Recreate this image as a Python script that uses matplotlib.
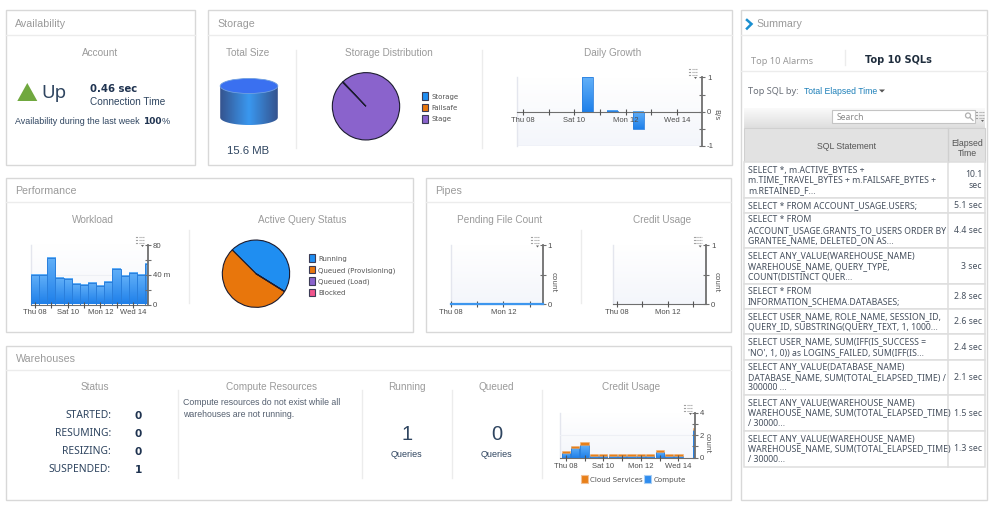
import numpy as np
import matplotlib
matplotlib.use("Agg")
import matplotlib.pyplot as plt
from matplotlib.colors import LinearSegmentedColormap
from matplotlib.patches import Rectangle, Polygon, Ellipse, PathPatch
from matplotlib.path import Path

W, H = 1000, 511

# chart data
tick_days = [8, 9, 10, 11, 12, 13, 14]
tick_names = ["Thu 08", "", "Sat 10", "", "Mon 12", "", "Wed 14"]
pipe_tick_days = [8, 10, 12, 14]
pipe_tick_names = ["Thu 08", "", "Mon 12", ""]

growth_days = [10.5, 11.5, 12.5]
growth_values = [1.0, 0.03, -0.5]

workload_days = [8, 8.5, 9, 9.5, 10, 10.5, 11, 11.5, 12, 12.5, 13, 13.5, 14, 14.5, 15]
workload_values = [40, 39, 63, 36, 34, 27.5, 26.7, 28.5, 25, 30, 48, 38.5, 43, 40, 54]

storage_labels = ["Storage", "Failsafe", "Stage"]
storage_values = [0.25, 0.15, 99.6]
storage_colors = ["#1f8ef1", "#e8760c", "#8a63cc"]

query_labels = ["Running", "Queued (Provisioning)", "Queued (Load)", "Blocked"]
query_values = [46.4, 53.6, 0, 0]
query_colors = ["#1f8ef1", "#e8760c", "#8a63cc", "#f0558c"]

pending_days = [8, 9, 10, 11, 12, 13, 14, 15]
pending_values = [0, 0, 0, 0, 0, 0, 0, 0]

credit_days = [8, 8.5, 9, 9.5, 10, 10.5, 11, 11.5, 12, 12.5, 13, 13.5, 14, 14.5, 15]
credit_compute = [0.41, 0.89, 1.13, 0.18, 0.18, 0.18, 0.18, 0.18, 0.18, 0.18, 0.53, 0.18, 0.18, 0, 2.46]
credit_cloud = [0.15, 0.18, 0.23, 0.12, 0.12, 0.12, 0.12, 0.12, 0.12, 0.12, 0.12, 0.12, 0.12, 0, 0.18]

status_names = ["STARTED:", "RESUMING:", "RESIZING:", "SUSPENDED:"]
status_counts = [0, 0, 0, 1]

sql_statements = [
    "SELECT *, m.ACTIVE_BYTES +\nm.TIME_TRAVEL_BYTES + m.FAILSAFE_BYTES +\nm.RETAINED_F...",
    "SELECT * FROM ACCOUNT_USAGE.USERS;",
    "SELECT * FROM\nACCOUNT_USAGE.GRANTS_TO_USERS ORDER BY\nGRANTEE_NAME, DELETED_ON AS...",
    "SELECT ANY_VALUE(WAREHOUSE_NAME)\nWAREHOUSE_NAME, QUERY_TYPE,\nCOUNT(DISTINCT QUER...",
    "SELECT * FROM\nINFORMATION_SCHEMA.DATABASES;",
    "SELECT USER_NAME, ROLE_NAME, SESSION_ID,\nQUERY_ID, SUBSTRING(QUERY_TEXT, 1, 1000...",
    "SELECT USER_NAME, SUM(IFF(IS_SUCCESS =\n'NO', 1, 0)) as LOGINS_FAILED, SUM(IFF(IS...",
    "SELECT ANY_VALUE(DATABASE_NAME)\nDATABASE_NAME, SUM(TOTAL_ELAPSED_TIME) /\n300000 ...",
    "SELECT ANY_VALUE(WAREHOUSE_NAME)\nWAREHOUSE_NAME, SUM(TOTAL_ELAPSED_TIME)\n/ 30000...",
    "SELECT ANY_VALUE(WAREHOUSE_NAME)\nWAREHOUSE_NAME, SUM(TOTAL_ELAPSED_TIME)\n/ 30000...",
]
sql_elapsed = ["10.1\nsec", "5.1 sec", "4.4 sec", "3 sec", "2.8 sec", "2.6 sec", "2.4 sec", "2.1 sec", "1.5 sec", "1.3 sec"]

GREY = "#9a9a9a"
DARK = "#2f4560"
BODY = "#556070"
AXIS = "#6f6f6f"
TICKC = "#4d4d4d"
UI = "Noto Sans"
SANS = "Liberation Sans"
VERD = "DejaVu Sans"

fig = plt.figure(figsize=(W / 100, H / 100), dpi=100, facecolor="white")
page = fig.add_axes([0, 0, 1, 1])
page.set_xlim(0, W)
page.set_ylim(H, 0)
page.set_autoscale_on(False)
page.axis("off")


def label(x, y, s, size=7.2, color=GREY, ha="left", weight="normal", family=SANS, **kw):
    page.text(x, y, s, fontsize=size, color=color, ha=ha, va="center_baseline",
              fontweight=weight, family=family, **kw)


def panel(x0, y0, x1, y1, title, title_x, head_y):
    page.add_patch(Rectangle((x0, y0), x1 - x0, y1 - y0, fc="white", ec="#d8d8d8", lw=1))
    page.plot([x0, x1], [head_y, head_y], color="#ececec", lw=1)
    label(title_x, (y0 + head_y) / 2, title, size=7.7)


def separator(x, y0, y1):
    page.plot([x, x], [y0, y1], color="#ececec", lw=1)


def vgradient(x0, y0, x1, y1, top, bottom):
    cmap = LinearSegmentedColormap.from_list("g", [top, bottom])
    page.imshow(np.linspace(0, 1, 64).reshape(-1, 1), extent=(x0, x1, y1, y0),
                cmap=cmap, aspect="auto", zorder=1)


def menu_icon(x, y):
    for dy in (-3, 0, 3):
        page.plot([x - 4, x - 3], [y + dy, y + dy], color="#a0a0a0", lw=0.8, zorder=5)
        page.plot([x - 1.5, x + 4], [y + dy, y + dy], color="#a0a0a0", lw=0.8, ls=(0, (1, 0.7)), zorder=5)
    page.add_patch(Polygon([(x + 1, y + 5), (x + 4, y + 5), (x + 2.5, y + 7)], fc="#666666", ec="none", zorder=5))


def legend_rows(x, y, labels, colors, step=11.5, size=5):
    for i, (name, c) in enumerate(zip(labels, colors)):
        page.add_patch(Rectangle((x, y + i * step - 3.7), 6.6, 7.4, fc=c, ec="#3b3b55", lw=0.8))
        label(x + 9.5, y + i * step, name, size=size, color="#555555", family=VERD)


def chart_axes(x0, y0, x1, y1, xlim, ylim, yticks, ylabels, unit=None, unit_x=None):
    vgradient(x0, y0, x1, y1, "#ffffff", "#f4f6fb")
    page.plot([x0, x0], [y0, y1], color="#e4e6ee", lw=1, zorder=2)
    ax = fig.add_axes([x0 / W, 1 - y1 / H, (x1 - x0) / W, (y1 - y0) / H], facecolor="none")
    ax.set_xlim(*xlim)
    ax.set_ylim(*ylim)
    ax.set_axisbelow(False)
    ax.spines[["top", "left"]].set_visible(False)
    ax.spines[["right", "bottom"]].set_color(AXIS)
    ax.spines["right"].set_linewidth(1.3)
    ax.yaxis.tick_right()
    ax.set_yticks(yticks)
    ax.set_yticklabels(ylabels, fontsize=5.6, color=TICKC, family=SANS)
    ax.tick_params(axis="y", direction="inout", length=4, width=0.8, color=AXIS, pad=1.5)
    ax.tick_params(axis="x", direction="inout", length=4, width=0.8, color="#555555", pad=1.5)
    if unit:
        label(unit_x, (y0 + y1) / 2, unit, size=5.2, color="#555555", ha="center", rotation=-90, family=VERD)
    return ax


def shade_bars(ax, bars, top="#62b0f8", bottom="#1f80ea"):
    # matplotlib bars have no gradient fill, so paint one behind each bar
    cmap = LinearSegmentedColormap.from_list("b", [bottom, top])
    xlim, ylim = ax.get_xlim(), ax.get_ylim()
    for b in bars:
        if b.get_height() == 0:
            continue
        x0, y0 = b.get_x(), b.get_y()
        x1, y1 = x0 + b.get_width(), y0 + b.get_height()
        ax.imshow(np.linspace(0, 1, 32).reshape(-1, 1), extent=(x0, x1, min(y0, y1), max(y0, y1)),
                  origin="lower", cmap=cmap, aspect="auto", zorder=1.9)
    ax.set_xlim(xlim)
    ax.set_ylim(ylim)


def day_ticks(ax, days, names, size=5.5):
    ax.set_xticks(days)
    ax.set_xticklabels(names, fontsize=size, color=TICKC, family=SANS)


# Availability
panel(5.5, 10.5, 195, 165, "Availability", 15, 35.5)
label(100, 51.5, "Account", ha="center")
page.add_patch(Polygon([(17.3, 101), (37.3, 101), (27.3, 83)], fc="#70a83f", ec="none"))
label(41, 91, "Up", size=13.5, color=DARK, family=UI)
label(90, 88, "0.46 sec", size=7.3, color="#1f3350", weight="bold", family=VERD)
label(90, 101, "Connection Time", size=7.2, color=DARK)
label(15, 120, "Availability during the last week", size=6.4, color=DARK)
label(143, 120.5, "100", size=6.5, color="#1f3350", weight="bold", family=VERD)
label(162, 120.5, "%", size=6.6, color=DARK)

# Storage
panel(208, 10.5, 731.5, 165, "Storage", 217.5, 35.5)
label(247.7, 51.5, "Total Size", ha="center")
label(389, 51.5, "Storage Distribution", ha="center")
label(613, 51.5, "Daily Growth", ha="center")
separator(296.3, 50, 148)
separator(482.3, 50, 148)

# cylinder: gradient body clipped to the side wall, then the top cap
cyl_cmap = LinearSegmentedColormap.from_list("c", ["#35548f", "#3a98f0", "#35548f"])
wall = [(220.2, 86), (277.8, 86)] + [(249 + 28.8 * np.cos(a), 117.5 + 7.5 * np.sin(a)) for a in np.linspace(0, np.pi, 40)] + [(220.2, 86)]
page.imshow(np.linspace(0, 1, 64).reshape(1, -1), extent=(220.2, 277.8, 125, 86), cmap=cyl_cmap, aspect="auto", zorder=2,
            clip_path=PathPatch(Path(wall), transform=page.transData))
page.add_patch(Ellipse((249, 86), 57.6, 15, fc="#3a70f0", ec="#6f9fe0", lw=0.6, zorder=3))
label(248, 150.5, "15.6 MB", size=8.2, color=DARK, ha="center")

ax = fig.add_axes([(366 - 34) / W, 1 - (106.3 + 34) / H, 68 / W, 68 / H])
ax.pie(storage_values, colors=storage_colors, startangle=133, radius=1,
       wedgeprops=dict(edgecolor="#1c1c30", linewidth=0.8))
ax.set_xlim(-1.01, 1.01)
ax.set_ylim(-1.01, 1.01)
legend_rows(421.7, 96, storage_labels, storage_colors)

ax = chart_axes(517, 77.5, 702, 146, (7.77, 14.97), (-1, 1), [-1, -0.5, 0, 0.5, 1], ["-1", "", "0", "", "1"], "B/s", 716)
ax.spines["bottom"].set_position(("data", 0))
ax.axhline(-1, color="#e4e6ee", lw=1, zorder=0)
bars = ax.bar(growth_days, growth_values, width=0.42, color="none", edgecolor="#2a80e0", linewidth=0.6, zorder=2)
shade_bars(ax, bars)
day_ticks(ax, tick_days, tick_names)
menu_icon(693, 72)

# Performance
panel(5.5, 178.5, 412.5, 332.5, "Performance", 15.5, 202.5)
label(93, 219, "Workload", ha="center")
label(301.7, 219, "Active Query Status", ha="center")
separator(189.3, 230, 303)

ax = chart_axes(31, 245, 148, 304.5, (7.75, 14.93), (0, 80), [0, 20, 40, 60, 80], ["0", "", "40 m", "", "80"])
ax.axhline(40, color="#eef0f5", lw=0.8, zorder=0)
bars = ax.bar(workload_days, workload_values, width=0.5, color="none", edgecolor="#2a7fdc", linewidth=0.7, zorder=2)
shade_bars(ax, bars)
day_ticks(ax, tick_days, tick_names)
menu_icon(140, 240)

ax = fig.add_axes([(256 - 34) / W, 1 - (273.7 + 34) / H, 68 / W, 68 / H])
ax.pie(query_values, colors=query_colors, startangle=-32, radius=1,
       wedgeprops=dict(edgecolor="#1c1c30", linewidth=0.8))
ax.set_xlim(-1.01, 1.01)
ax.set_ylim(-1.01, 1.01)
legend_rows(308.7, 258, query_labels, query_colors)

# Pipes
panel(425.5, 178.5, 731, 332.5, "Pipes", 435.5, 202.5)
label(499.3, 219, "Pending File Count", ha="center")
label(662, 219, "Credit Usage", ha="center")
separator(581.3, 230, 303)

ax = chart_axes(450.7, 245.3, 542.7, 304.3, (8, 15), (0, 1), [0, 0.5, 1], ["0", "", "1"], "count", 553.5)
ax.plot(pending_days, pending_values, color="#3d96ee", lw=1.6, zorder=4, clip_on=False)
day_ticks(ax, pipe_tick_days, pipe_tick_names)
menu_icon(535, 240.5)

ax = chart_axes(613.3, 245.3, 706, 304.3, (7.73, 14.98), (0, 1), [0, 0.5, 1], ["0", "", "1"], "count", 716.5)
day_ticks(ax, pipe_tick_days, pipe_tick_names)
menu_icon(697.7, 240.5)

# Warehouses
panel(5.5, 346, 731, 500.5, "Warehouses", 15.5, 370.5)
label(95.3, 386.3, "Status", ha="center")
label(271.7, 386.3, "Compute Resources", ha="center")
label(406.7, 386.3, "Running", ha="center")
label(496.7, 386.3, "Queued", ha="center")
label(630.7, 386.3, "Credit Usage", ha="center")
separator(178.3, 390, 478)
separator(361.7, 390, 478)
separator(451.7, 390, 478)
separator(541.7, 390, 478)
for i, (name, n) in enumerate(zip(status_names, status_counts)):
    label(111, 414.3 + i * 18, name, size=7.4, color=DARK, ha="right", family=UI)
    label(138.3, 414.8 + i * 18, str(n), size=7.6, color="#1f3350", ha="center", weight="bold", family=VERD)
label(183.3, 401.7, "Compute resources do not exist while all", size=6.3, color=BODY)
label(183.3, 413.3, "warehouses are not running.", size=6.3, color=BODY)
label(406.7, 432.3, "1", size=14.5, color=DARK, ha="center")
label(496.7, 432.3, "0", size=14.5, color=DARK, ha="center")
label(406.7, 453.3, "Queries", size=6.5, color=DARK, ha="center")
label(496.7, 453.3, "Queries", size=6.5, color=DARK, ha="center")

ax = chart_axes(560.3, 412.7, 695, 457.7, (7.71, 14.88), (0, 4), [0, 1, 2, 3, 4], ["0", "", "2", "", "4"], "count", 708)
ax.axhline(2, color="#eef0f5", lw=0.8, zorder=0)
bars = ax.bar(credit_days, credit_compute, width=0.43, color="none", edgecolor="#2a7fdc", linewidth=0.6, zorder=2)
shade_bars(ax, bars)
ax.bar(credit_days, credit_cloud, width=0.43, bottom=credit_compute, color="#e8801a", edgecolor="#f0b070", linewidth=0.4, zorder=2)
day_ticks(ax, tick_days, tick_names)
menu_icon(688, 408)
page.add_patch(Rectangle((581, 475.5), 7.3, 8, fc="#e8801a", ec="#f2c095", lw=0.8, zorder=3))
label(590, 479.3, "Cloud Services", size=5.1, color="#555555", family=VERD)
page.add_patch(Rectangle((644, 475.5), 7.3, 8, fc="#2f8cee", ec="#a8cff5", lw=0.8, zorder=3))
label(653.3, 479.3, "Compute", size=5.1, color="#555555", family=VERD)

# Summary
panel(741, 10.5, 987, 500.5, "Summary", 756, 35.5)
page.plot([747, 751.5, 747], [20, 24, 28.5], color="#1a8fd0", lw=1.8, solid_joinstyle="miter")
label(751, 60, "Top 10 Alarms", size=6.65, family=UI)
separator(844.7, 50, 65)
label(864.7, 59, "Top 10 SQLs", size=7.05, color="#1f2d3d", weight="bold", family=VERD)
page.plot([741, 987], [70.7, 70.7], color="#ececec", lw=1)
label(748, 90.7, "Top SQL by:", size=6.6, color="#6a6f78", weight="bold", family=UI)
label(804, 90.7, "Total Elapsed Time", size=6.2, color="#1c7fb8")
page.add_patch(Polygon([(879, 89.5), (885, 89.5), (882, 92.5)], fc="#555555", ec="none"))

vgradient(744, 108, 985, 127.7, "#fafafa", "#dedede")
page.add_patch(Rectangle((832.3, 110), 143, 13.3, fc="white", ec="#c4c4c4", lw=0.8, zorder=3))
label(836.3, 116.7, "Search", size=6.2, color="#888888", zorder=4, family=UI)
page.add_patch(Ellipse((968, 115.5), 5, 5, fc="none", ec="#b0b0b0", lw=0.9, zorder=4))
page.plot([970, 973], [117.5, 120.5], color="#b0b0b0", lw=0.9, zorder=4)
menu_icon(980, 115)

page.add_patch(Rectangle((744, 127.7), 241, 34.6, fc="#e2e2e2", ec="#d0d0d0", lw=0.8, zorder=2))
page.plot([948, 948], [127.7, 162.3], color="#cfcfcf", lw=1, zorder=3)
label(846.3, 145.7, "SQL Statement", size=6.3, color="#555555", ha="center", zorder=4)
label(967, 147, "Elapsed\nTime", size=6.3, color="#555555", ha="center", zorder=4, linespacing=1.2)

row_top = 162.3
for stmt, took in zip(sql_statements, sql_elapsed):
    lines = stmt.count("\n") + 1
    row_h = 4.3 + 10.45 * lines
    page.add_patch(Rectangle((744, row_top), 241, row_h, fc="white", ec="#dedede", lw=1.1, zorder=2))
    page.plot([948, 948], [row_top, row_top + row_h], color="#dedede", lw=1.1, zorder=3)
    page.text(748, row_top + row_h / 2, stmt, fontsize=6.25, color="#46505e", family=UI, va="center",
              linespacing=1.22, zorder=4)
    page.text(982, row_top + row_h / 2, took, fontsize=6.25, color="#46505e", family=UI, va="center", ha="right",
              linespacing=1.22, zorder=4)
    row_top += row_h

fig.savefig("out.png", dpi=100)
